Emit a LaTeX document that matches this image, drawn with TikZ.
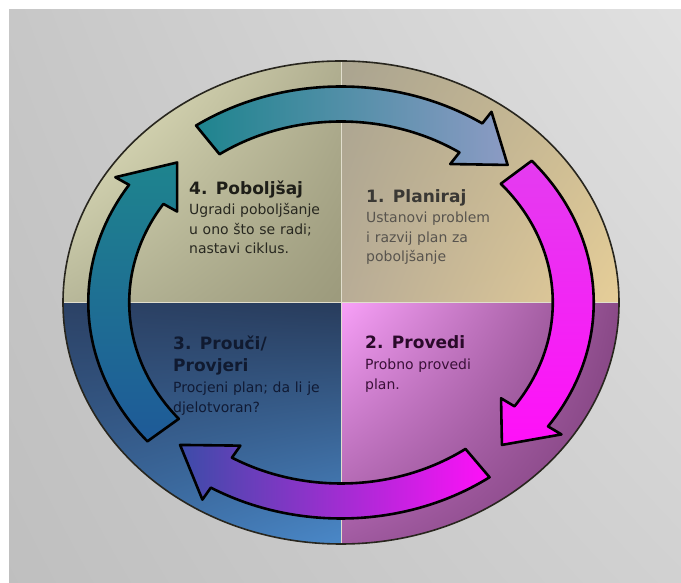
\documentclass[tikz,border=0pt]{standalone}
\usepackage{fontspec}
\setmainfont{DejaVu Sans}
\usetikzlibrary{shadings}

\definecolor{teal1}{RGB}{30,132,142}
\definecolor{slate1}{RGB}{140,155,196}
\definecolor{magA}{RGB}{228,60,240}
\definecolor{lilac}{RGB}{184,136,216}
\definecolor{magB}{RGB}{255,16,248}
\definecolor{indigo1}{RGB}{60,76,168}
\definecolor{blue1}{RGB}{30,90,152}

\tikzset{
  ringarrow/.style={draw=black, line width=2.6pt, line join=round},
  divider/.style={draw={rgb,255:red,225;green,222;blue,205}, line width=0.8pt},
  headtext/.style={font=\fontsize{17}{22}\selectfont\bfseries, anchor=base west, inner sep=0pt, text width=190pt},
  bodytext/.style={font=\fontsize{14}{19.5}\selectfont, anchor=base west, inner sep=0pt, text width=190pt},
}

\begin{document}
\begin{tikzpicture}[x=1pt, y=1pt]
        \useasboundingbox (0,0) rectangle (681,583);
        \fill[white] (0,0) rectangle (681,583);
        \shade[upper left=black!22, upper right=black!12, lower left=black!25, lower right=black!18] (9,0) rectangle (681,573);

        \coordinate (C) at (341,280.5);

        % quadrants
        \shade[upper left={rgb,255:red,170;green,164;blue,144}, upper right={rgb,255:red,204;green,188;blue,146},
               lower left={rgb,255:red,184;green,172;blue,150}, lower right={rgb,255:red,230;green,206;blue,152}]
          (C) -- ++(278,0) arc[start angle=0, end angle=90, x radius=278, y radius=241.5] -- cycle;
        \shade[upper left={rgb,255:red,238;green,238;blue,200}, upper right={rgb,255:red,176;green,174;blue,144},
               lower left={rgb,255:red,184;green,184;blue,154}, lower right={rgb,255:red,156;green,154;blue,124}]
          (C) -- ++(0,241.5) arc[start angle=90, end angle=180, x radius=278, y radius=241.5] -- cycle;
        \shade[upper left={rgb,255:red,44;green,66;blue,102}, upper right={rgb,255:red,40;green,60;blue,92},
               lower left={rgb,255:red,58;green,106;blue,160}, lower right={rgb,255:red,74;green,136;blue,200}]
          (C) -- ++(-278,0) arc[start angle=180, end angle=270, x radius=278, y radius=241.5] -- cycle;
        \shade[upper left={rgb,255:red,248;green,160;blue,248}, upper right={rgb,255:red,138;green,74;blue,136},
               lower left={rgb,255:red,160;green,90;blue,160}, lower right={rgb,255:red,122;green,60;blue,120}]
          (C) -- ++(0,-241.5) arc[start angle=270, end angle=360, x radius=278, y radius=241.5] -- cycle;

        \coordinate (top) at (341,522);
        \coordinate (bottom) at (341,39);
        \coordinate (left) at (63,280.5);
        \coordinate (right) at (619,280.5);
        \draw[divider] (top) -- (bottom);
        \draw[divider] (left) -- (right);
        \draw[line width=1.6pt, color={rgb,255:red,40;green,38;blue,30}] (C) ellipse [x radius=278, y radius=241.5];

        % cycle arrows
        \begin{scope}[shift={(C)}, xscale=1.17]
          \shadedraw[ringarrow, left color=teal1, right color=slate1]
            (125:216) arc[start angle=125, end angle=56, radius=216] -- (56:230) -- (44:198)
            -- (56:167) -- (56:181) arc[start angle=56, end angle=125, radius=181] -- cycle;
          \shadedraw[ringarrow, top color=magA, middle color=lilac, bottom color=magB]
            (41:216) arc[start angle=41, end angle=-35, radius=216] -- (-35:230) -- (-46:198)
            -- (-35:167) -- (-35:181) arc[start angle=-35, end angle=41, radius=181] -- cycle;
          \shadedraw[ringarrow, left color=indigo1, right color=magB]
            (-54:216) arc[start angle=-54, end angle=-121, radius=216] -- (-121:230) -- (-134:198)
            -- (-121:167) -- (-121:181) arc[start angle=-121, end angle=-54, radius=181] -- cycle;
          \shadedraw[ringarrow, top color=teal1, bottom color=blue1]
            (220:216) arc[start angle=220, end angle=147, radius=216] -- (147:230) -- (135:198)
            -- (147:167) -- (147:181) arc[start angle=147, end angle=220, radius=181] -- cycle;
        \end{scope}

        % texts
        \node[headtext, text={rgb,255:red,30;green,30;blue,24}] (improve) at (189,388) {4. Poboljšaj};
        \node[bodytext, text={rgb,255:red,40;green,40;blue,32}] (improvetext) at (189,368)
          {Ugradi poboljšanje\\u ono što se radi;\\nastavi ciklus.};

        \node[headtext, text={rgb,255:red,58;green,56;blue,52}] (plan) at (366,380) {1. Planiraj};
        \node[bodytext, text={rgb,255:red,88;green,84;blue,78}] (plantext) at (366,360)
          {Ustanovi problem\\i razvij plan za\\poboljšanje};

        \node[headtext, text={rgb,255:red,16;green,26;blue,48}] (study) at (173,233) {3. Prouči/\\Provjeri};
        \node[bodytext, text={rgb,255:red,16;green,26;blue,52}] (studytext) at (173,190)
          {Procjeni plan; da li je\\djelotvoran?};

        \node[headtext, text={rgb,255:red,42;green,10;blue,42}] (do) at (365,234) {2. Provedi};
        \node[bodytext, text={rgb,255:red,58;green,16;blue,56}] (dotext) at (365,213)
          {Probno provedi\\plan.};
      \end{tikzpicture}
\end{document}
